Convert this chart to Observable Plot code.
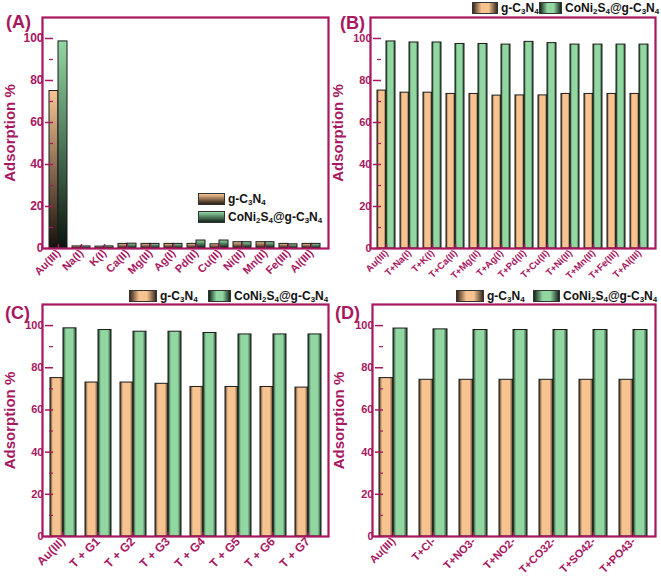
<!DOCTYPE html>
<html><head><meta charset="utf-8">
<script src="https://cdn.jsdelivr.net/npm/d3@7"></script>
<script src="https://cdn.jsdelivr.net/npm/@observablehq/plot@0.6"></script>
<style>
body{margin:0;background:#fff;font-family:"Liberation Sans",Arial,sans-serif;}
#root{position:relative;width:661px;height:578px;overflow:hidden;background:#fff}
.panel{position:absolute;}
.panel svg{position:absolute;left:0;top:0;overflow:visible;background:transparent}
.tag{position:absolute;font-weight:bold;font-size:18px;color:#A8175F;line-height:1}
.legend{position:absolute;font-weight:bold;color:#111;font-size:12px;line-height:1;white-space:nowrap}
.legend .item{position:absolute;display:flex;align-items:center;top:0}
.legend .sw{display:inline-block;height:12px;border:1px solid #333;box-sizing:border-box;margin-right:3px}
.legend sub{font-size:8px;vertical-align:-2px;line-height:0}
.sv-o{background:linear-gradient(to bottom,#f7c594,#2a1e14)}
.sv-g{background:linear-gradient(to bottom,#92d7a2,#12241a)}
.sh-o{background:linear-gradient(to right,#3a2a1e,#f6c391 35%,#f6c391 65%,#3a2a1e)}
.sh-g{background:linear-gradient(to right,#13261a,#92d7a2 35%,#92d7a2 65%,#13261a)}
svg [aria-label="y-axis label"] text{font-size:15px}
</style></head>
<body>
<div id="root"></div>
<script>
const MAG = "#A8175F";
const seriesNames = ["g-C3N4", "CoNi2S4@g-C3N4"];
const yTicks = [0, 20, 40, 60, 80, 100];
const yMinor = [10, 30, 50, 70, 90];

const catsA = ["Au(III)","Na(I)","K(I)","Ca(II)","Mg(II)","Ag(I)","Pd(II)","Cu(II)","Ni(II)","Mn(II)","Fe(III)","Al(III)"];
const gA = [75.0, 1.0, 0.9, 2.2, 2.2, 2.2, 2.2, 2.0, 3.0, 3.0, 2.2, 2.2];
const cA = [98.6, 1.0, 1.0, 2.3, 2.2, 2.2, 3.8, 3.8, 3.0, 3.0, 2.0, 2.2];

const catsB = ["Au(III)","T+Na(I)","T+K(I)","T+Ca(II)","T+Mg(II)","T+Ag(I)","T+Pd(II)","T+Cu(II)","T+Ni(II)","T+Mn(II)","T+Fe(III)","T+Al(III)"];
const gB = [75.2, 74.2, 74.2, 73.6, 73.6, 72.8, 72.9, 72.9, 73.6, 73.6, 73.6, 73.6];
const cB = [98.6, 98.1, 98.1, 97.4, 97.4, 97.1, 98.4, 97.8, 97.1, 97.1, 97.1, 97.1];

const catsC = ["Au(III)","T + G1","T + G2","T + G3","T + G4","T + G5","T + G6","T + G7"];
const gC = [75.1, 73.0, 73.0, 72.4, 70.9, 70.9, 70.9, 70.6];
const cC = [98.7, 97.9, 97.1, 97.1, 96.5, 95.8, 95.8, 95.8];

const catsD = ["Au(III)","T+Cl-","T+NO3-","T+NO2-","T+CO32-","T+SO42-","T+PO43-"];
const gD = [75.1, 74.3, 74.3, 74.3, 74.3, 74.3, 74.3];
const cD = [98.6, 98.2, 97.9, 97.9, 97.9, 97.9, 97.9];

const root = document.getElementById("root");

function rowsOf(cats, g, c) {
  return cats.flatMap((cat, i) => [{cat, s: seriesNames[0], v: g[i]}, {cat, s: seriesNames[1], v: c[i]}]);
}

function addGrad(defs, id, vertical, light, dark) {
  const lg = defs.append("linearGradient").attr("id", id)
    .attr("x1", 0).attr("y1", 0).attr("x2", vertical ? 0 : 1).attr("y2", vertical ? 1 : 0);
  if (vertical) {
    lg.append("stop").attr("offset", "0%").attr("stop-color", light);
    lg.append("stop").attr("offset", "100%").attr("stop-color", dark);
  } else {
    lg.append("stop").attr("offset", "0%").attr("stop-color", dark);
    lg.append("stop").attr("offset", "22%").attr("stop-color", light);
    lg.append("stop").attr("offset", "75%").attr("stop-color", light);
    lg.append("stop").attr("offset", "100%").attr("stop-color", dark);
  }
}

function panel(o) {
  const div = document.createElement("div");
  div.className = "panel";
  div.style.left = o.left + "px"; div.style.top = o.top + "px";
  div.style.width = o.width + "px"; div.style.height = o.height + "px";
  root.appendChild(div);
  const rows = rowsOf(o.cats, o.g, o.c);
  const fo = `url(#${o.id}-o)`, fg = `url(#${o.id}-g)`;
  const margins = {marginTop: o.mt, marginRight: o.mr, marginBottom: o.mb, marginLeft: o.ml};
  const plot = Plot.plot({
    width: o.width, height: o.height, ...margins,
    style: {fontFamily: "'Liberation Sans', Arial, sans-serif", fontWeight: "bold", fontSize: o.yFont + "px", background: "transparent"},
    fx: {domain: o.cats, paddingInner: o.pi, paddingOuter: o.po, label: null},
    x: {domain: seriesNames, padding: 0, axis: null},
    y: {domain: [0, 110]},
    marks: [
      Plot.barY(rows.filter(d => d.s === seriesNames[0]), {fx: "cat", x: "s", y: "v", fill: fo, stroke: "#1b1b1b", strokeWidth: 1}),
      Plot.barY(rows.filter(d => d.s === seriesNames[1]), {fx: "cat", x: "s", y: "v", fill: fg, stroke: "#1b1b1b", strokeWidth: 1}),
      Plot.axisY({ticks: yTicks, tickSize: 8, dx: 4, text: null, color: MAG, strokeWidth: 1.5, label: null}),
      Plot.axisY({ticks: yMinor, tickSize: 4, dx: 4, text: null, color: MAG, strokeWidth: 1.2, label: null}),
      Plot.axisY({ticks: yTicks, tickSize: 0, tickPadding: 6, color: MAG, fontSize: o.yFont,
        label: "Adsorption %", labelAnchor: "center", labelOffset: o.labelOffset, labelArrow: "none"}),
      Plot.axisFx({anchor: "bottom", tickSize: 4, dy: -4, text: null, color: MAG, strokeWidth: 1.5, label: null}),
      Plot.axisFx({anchor: "bottom", tickSize: 0, tickPadding: o.xPad, tickRotate: -45, color: MAG, fontSize: o.xFont, label: null})
    ]
  });
  const svg = plot.tagName.toLowerCase() === "svg" ? plot : plot.querySelector("svg");
  const defs = d3.select(svg).insert("defs", ":first-child");
  if (o.vertical) {
    addGrad(defs, o.id + "-o", true, "#f7c594", "#16100b");
    addGrad(defs, o.id + "-g", true, "#92d7a2", "#08140d");
  } else {
    addGrad(defs, o.id + "-o", false, "#f6c391", "#4a3624");
    addGrad(defs, o.id + "-g", false, "#92d7a2", "#1d3a26");
  }
  div.appendChild(plot);
  const frame = Plot.plot({
    width: o.width, height: o.height, ...margins,
    style: {background: "transparent"},
    x: {domain: [0, 1], axis: null}, y: {domain: [0, 1], axis: null},
    marks: [Plot.frame({stroke: MAG, strokeWidth: 2.2})]
  });
  div.appendChild(frame);
  const tag = document.createElement("div");
  tag.className = "tag"; tag.textContent = o.tag;
  tag.style.left = o.tagX + "px"; tag.style.top = o.tagY + "px";
  div.appendChild(tag);
  return div;
}

const legendLabels = ["g-C<sub>3</sub>N<sub>4</sub>", "CoNi<sub>2</sub>S<sub>4</sub>@g-C<sub>3</sub>N<sub>4</sub>"];
function legend(parent, x, y, vertical, pos, swW) {
  const lg = document.createElement("div");
  lg.className = "legend";
  lg.style.left = x + "px"; lg.style.top = y + "px";
  const cls = vertical ? ["sv-o", "sv-g"] : ["sh-o", "sh-g"];
  lg.innerHTML = legendLabels.map((t, i) =>
    `<span class="item" style="left:${pos[i][0]}px;top:${pos[i][1]}px"><span class="sw ${cls[i]}" style="width:${swW[i]}px"></span><span>${t}</span></span>`
  ).join("");
  parent.appendChild(lg);
}

const pA = panel({id: "pA", cats: catsA, g: gA, c: cA, left: 0, top: 0, width: 330, height: 290,
  mt: 17, mr: 2, mb: 42, ml: 42, pi: 0.2, po: 0.15, xFont: 11, yFont: 12, labelOffset: 45, xPad: 3,
  vertical: true, tag: "(A)", tagX: 6, tagY: 13});
legend(pA, 198, 193, true, [[0, 0], [0, 18]], [27, 27]);

const pB = panel({id: "pB", cats: catsB, g: gB, c: cB, left: 330, top: 0, width: 331, height: 290,
  mt: 17, mr: 6, mb: 42, ml: 40, pi: 0.22, po: 0.15, xFont: 9.5, yFont: 11, labelOffset: 45, xPad: 3,
  vertical: false, tag: "(B)", tagX: 10, tagY: 14});
legend(pB, 142, 2, false, [[0, 0], [67, 0]], [26, 23]);

const pC = panel({id: "pC", cats: catsC, g: gC, c: cC, left: 0, top: 288, width: 330, height: 290,
  mt: 16, mr: 2, mb: 42, ml: 42, pi: 0.22, po: 0.14, xFont: 12, yFont: 11, labelOffset: 45, xPad: 3,
  vertical: false, tag: "(C)", tagX: 5, tagY: 16});
legend(pC, 129, 2, false, [[0, 0], [79, 0]], [28, 23]);

const pD = panel({id: "pD", cats: catsD, g: gD, c: cD, left: 330, top: 288, width: 331, height: 290,
  mt: 16, mr: 6, mb: 42, ml: 42, pi: 0.29, po: 0.17, xFont: 11, yFont: 11, labelOffset: 46, xPad: 3,
  vertical: false, tag: "(D)", tagX: 5, tagY: 16});
legend(pD, 126, 2, false, [[0, 0], [77, 0]], [28, 27]);
</script>
</body></html>
